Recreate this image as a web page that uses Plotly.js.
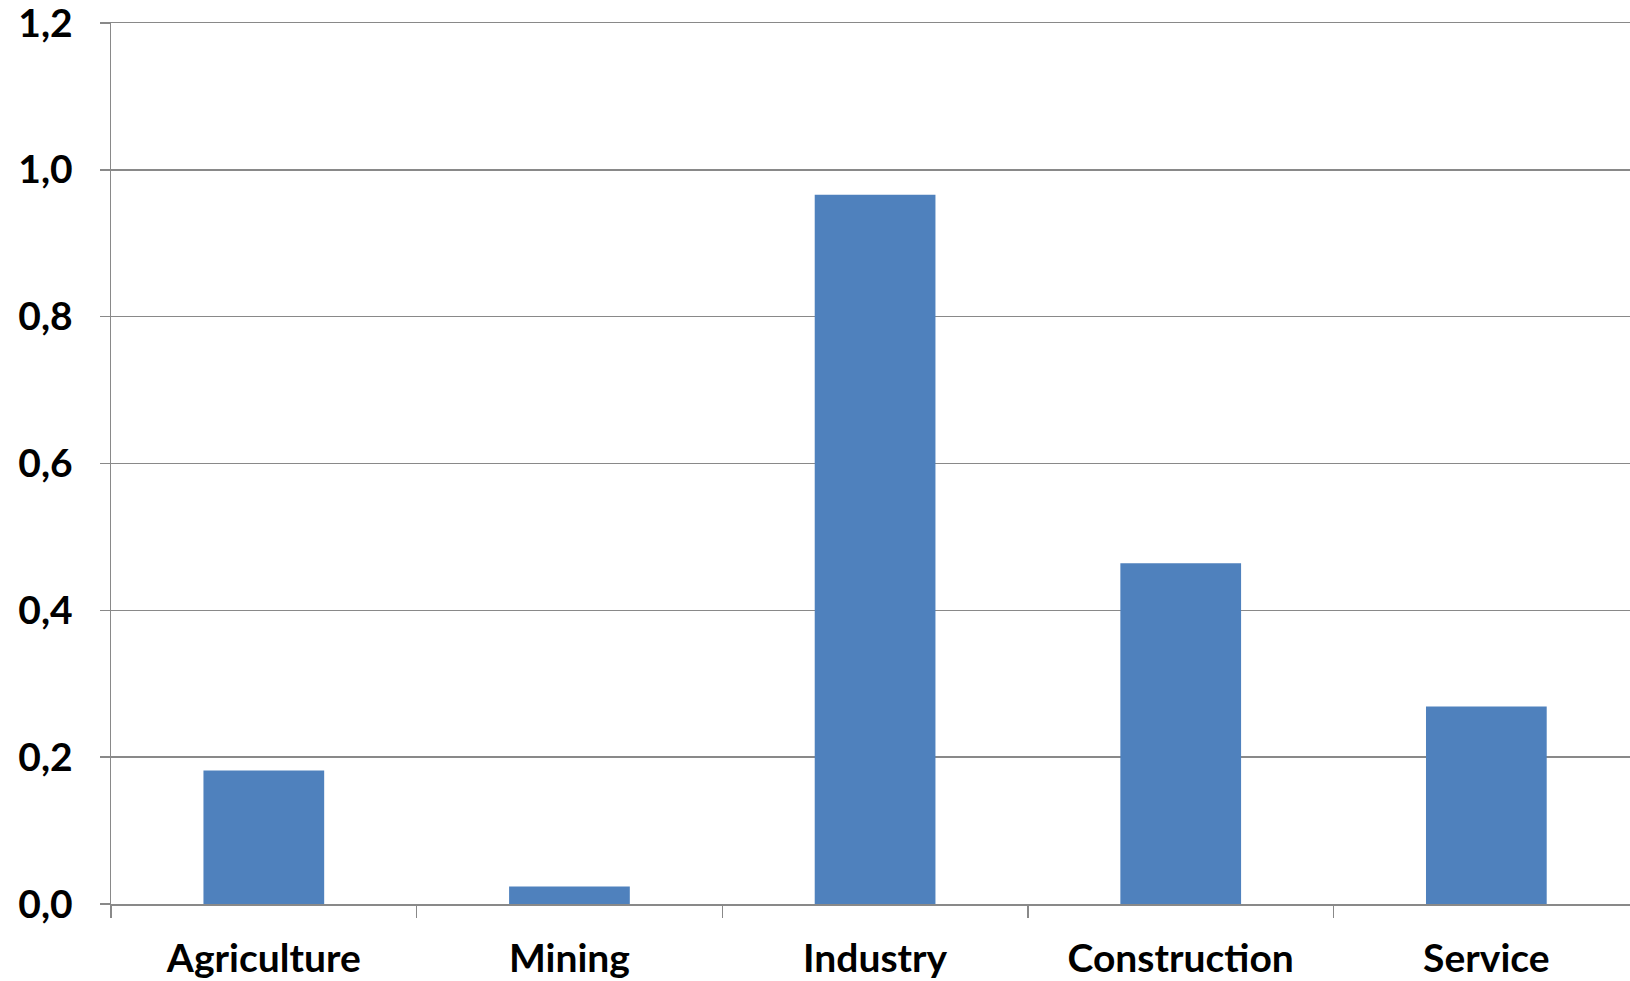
<!DOCTYPE html>
<html>
<head>
<meta charset="utf-8">
<script src="https://cdn.plot.ly/plotly-3.0.1.min.js"></script>
<style>html,body{margin:0;padding:0;background:#fff;}#chart{width:1630px;height:981px;}</style>
</head>
<body>
<div id="chart"></div>
<script>
const categories = ["Agriculture", "Mining", "Industry", "Construction", "Service"];
const values = [0.182, 0.024, 0.966, 0.464, 0.269];
const yTickValues = [0, 0.2, 0.4, 0.6, 0.8, 1.0, 1.2];

const trace = {
  type: "bar",
  x: categories,
  y: values,
  marker: {color: "#4F81BD"},
  hoverinfo: "none"
};

const layout = {
  width: 1630,
  height: 981,
  margin: {l: 111, r: 0, t: 23, b: 77},
  paper_bgcolor: "#ffffff",
  plot_bgcolor: "#ffffff",
  separators: ",.",
  bargap: 0.605,
  showlegend: false,
  font: {family: "Lato, 'Open Sans', sans-serif", color: "#000000"},
  xaxis: {
    type: "category",
    range: [-0.5, 4.47],
    showgrid: false,
    showline: true,
    mirror: true,
    linecolor: "#898989",
    linewidth: 1.5,
    ticks: "outside",
    tickson: "boundaries",
    ticklen: 12,
    tickwidth: 1.5,
    tickcolor: "#898989",
    tickfont: {family: "Lato, sans-serif", size: 39, weight: "bold", color: "#000"},
    ticklabelstandoff: 20,
    ticklabeloverflow: "allow",
    zeroline: false
  },
  yaxis: {
    range: [0, 1.2],
    tickvals: yTickValues,
    tickformat: ".1f",
    showgrid: true,
    gridcolor: "#898989",
    gridwidth: 1.5,
    showline: true,
    linecolor: "#898989",
    linewidth: 1.5,
    ticks: "outside",
    ticklen: 10,
    tickwidth: 1.5,
    tickcolor: "#898989",
    tickfont: {family: "Lato, sans-serif", size: 39, weight: "bold", color: "#000"},
    ticklabelstandoff: 19,
    ticklabeloverflow: "allow",
    zeroline: false
  }
};

Plotly.newPlot("chart", [trace], layout, {displayModeBar: false, staticPlot: true});
</script>
</body>
</html>
